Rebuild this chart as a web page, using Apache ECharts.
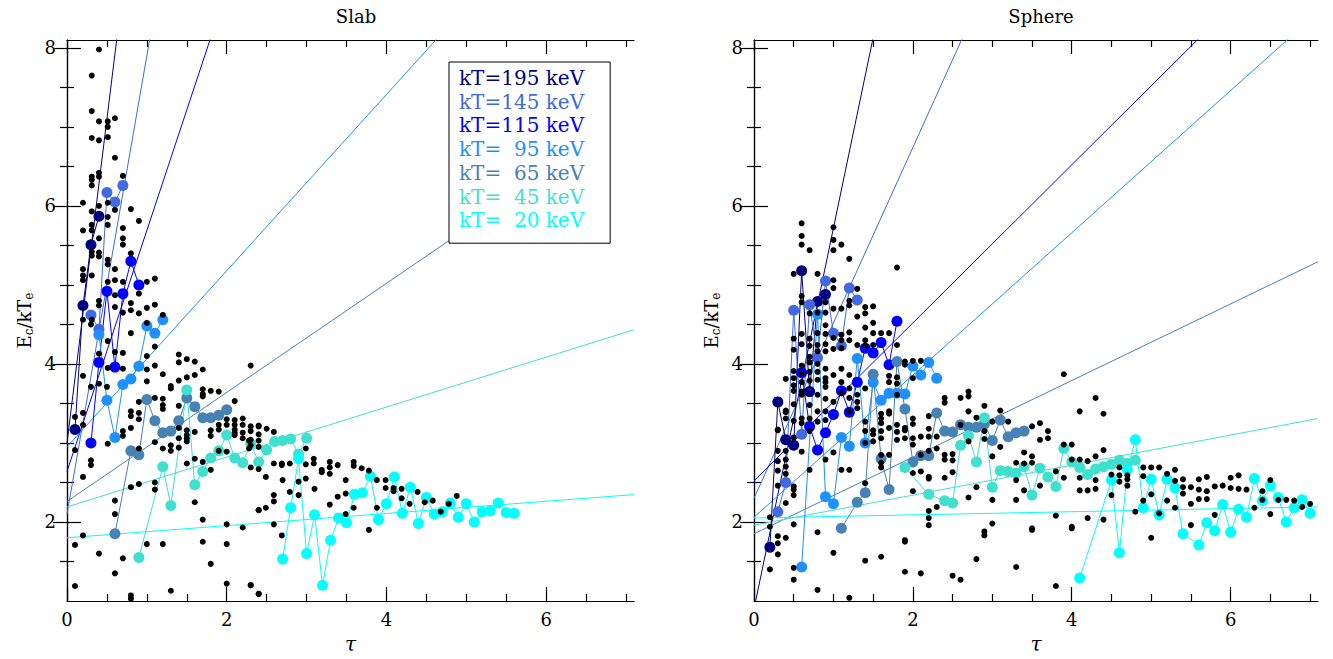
<!DOCTYPE html>
<html>
<head>
<meta charset="utf-8">
<title>Ec/kTe versus tau</title>
<script src="https://cdn.jsdelivr.net/npm/echarts@6/dist/echarts.min.js"></script>
<style>
  html, body { margin: 0; padding: 0; background: #fff; }
  #chart { width: 1333px; height: 659px; }
</style>
</head>
<body>
<div id="chart"></div>
<script>
  // legend names and colours, one per kT
  const kTNames = ['kT=195 keV', 'kT=145 keV', 'kT=115 keV', 'kT=\u200795 keV', 'kT=\u200765 keV', 'kT=\u200745 keV', 'kT=\u200720 keV'];
  const kTColors = ['#000080', '#4169e1', '#0000ff', '#1e90ff', '#4682b4', '#40e0d0', '#00ffff'];

  // tick values
  const xMajor = [0, 2, 4, 6];
  const xMinor = [0.5, 1, 1.5, 2.5, 3, 3.5, 4.5, 5, 5.5, 6.5, 7];
  const yMajor = [2, 4, 6, 8];
  const yMinor = [1.5, 2.5, 3, 3.5, 4.5, 5, 5.5, 6.5, 7, 7.5];

  // Slab: [tau, Ec/kTe]
  const slab195 = [[0.1,3.17],[0.2,4.74],[0.3,5.51],[0.4,5.87]];
  const slab145 = [[0.3,4.62],[0.4,4.44],[0.5,6.17],[0.6,6.05],[0.7,6.26]];
  const slab115 = [[0.3,3.00],[0.4,4.02],[0.5,4.92],[0.6,3.96],[0.7,4.89],[0.8,5.30],[0.9,5.00]];
  const slab95 = [[0.4,4.37],[0.5,3.54],[0.6,3.07],[0.7,3.74],[0.8,3.81],[0.9,3.97],[1.0,4.48],[1.1,4.39],[1.2,4.56]];
  const slab65 = [[0.6,1.85],[0.8,2.90],[0.9,2.85],[1.0,3.55],[1.1,3.28],[1.2,3.13],[1.3,3.15],[1.4,3.28],[1.5,3.57],[1.6,3.46],[1.7,3.32],[1.8,3.32],[1.9,3.35],[2.0,3.42]];
  const slab45 = [[0.9,1.55],[1.2,2.70],[1.3,2.21],[1.5,3.67],[1.6,2.47],[1.7,2.64],[1.8,2.81],[1.9,2.90],[2.0,3.10],[2.1,2.81],[2.2,2.75],[2.3,2.99],[2.4,2.76],[2.5,2.91],[2.6,3.02],[2.7,3.03],[2.8,3.05],[2.9,2.86],[3.0,3.06]];
  const slab20 = [[2.7,1.53],[2.8,2.18],[2.9,2.80],[3.0,1.60],[3.1,2.09],[3.2,1.20],[3.3,1.77],[3.4,2.05],[3.5,1.99],[3.6,2.35],[3.7,2.37],[3.8,2.58],[3.9,2.03],[4.0,2.23],[4.1,2.57],[4.2,2.11],[4.3,2.44],[4.4,1.98],[4.5,2.31],[4.6,2.10],[4.7,2.13],[4.8,2.24],[4.9,2.06],[5.0,2.23],[5.1,2.00],[5.2,2.13],[5.3,2.14],[5.4,2.24],[5.5,2.12],[5.6,2.11]];
  const slabDots = [
    [0.40,7.98],[0.31,7.65],[0.31,7.20],[0.40,7.07],[0.51,7.07],[0.51,7.00],[0.60,7.11],[0.31,6.86],[0.40,6.83],[0.51,6.87],
    [0.60,6.61],[0.31,6.37],[0.31,6.33],[0.40,6.42],[0.40,6.37],[0.31,6.26],[0.70,6.38],[0.20,6.04],[0.51,6.04],[0.60,5.95],
    [0.31,5.93],[0.40,6.00],[0.80,5.96],[0.51,5.86],[0.20,5.69],[0.31,5.76],[0.31,5.69],[0.51,5.76],[0.90,5.81],[0.70,5.72],
    [0.40,5.59],[0.70,5.59],[0.70,5.51],[0.31,5.42],[0.31,5.37],[0.40,5.41],[0.40,5.36],[0.80,5.40],[0.51,5.32],[0.51,5.26],
    [0.60,5.20],[0.20,5.20],[0.20,5.12],[0.20,5.06],[0.31,5.12],[0.70,5.04],[0.60,5.06],[0.51,5.04],[1.00,5.04],[1.10,5.08],
    [0.60,4.87],[0.90,4.89],[0.40,4.80],[0.40,4.74],[0.60,4.72],[0.80,4.77],[0.80,4.68],[0.70,4.65],[0.90,4.64],[1.00,4.71],
    [1.10,4.75],[0.31,4.56],[1.20,4.62],[1.00,4.52],
    [0.20,4.56],[0.30,4.50],[0.80,4.39],[0.51,4.29],[1.10,4.22],[0.60,4.15],[0.70,4.14],[0.40,4.13],[1.00,4.10],[1.40,4.12],
    [1.40,4.02],[1.50,4.06],[1.60,4.03],[1.70,3.93],[2.30,3.98],[0.51,3.95],[0.70,3.94],[1.00,3.93],[1.10,3.98],[0.20,3.85],
    [1.20,3.87],[1.50,3.83],[1.60,3.86],[0.30,3.71],[0.40,3.75],[0.50,3.71],[1.00,3.78],[1.40,3.79],[1.30,3.72],[1.30,3.69],
    [1.70,3.68],[1.80,3.66],[1.90,3.65],[0.90,3.52],[0.80,3.40],[0.80,3.34],[0.90,3.38],[0.90,3.30],[1.10,3.57],[1.20,3.56],
    [1.20,3.48],[1.20,3.43],[1.40,3.47],[1.70,3.62],[1.70,3.59],[2.10,3.53],
    [0.80,3.19],[0.20,3.38],[0.10,3.33],[0.20,3.23],[0.51,2.99],[0.70,3.15],[0.70,3.09],[1.10,3.01],[1.40,3.19],[1.50,3.16],
    [1.50,3.10],[1.50,3.06],[1.50,3.02],[1.60,3.14],[1.80,3.16],[1.80,3.09],[1.90,3.23],[1.90,3.17],[2.00,3.30],[2.00,3.23],
    [2.10,3.29],[2.10,3.23],[2.10,3.17],[2.10,3.13],[2.20,3.31],[2.20,3.23],[2.30,3.21],[2.30,3.15],[2.40,3.21],
    [0.10,2.91],[0.90,2.93],[1.20,2.93],[1.30,2.97],[1.30,2.90],[1.40,2.94],[1.50,2.74],[1.40,3.06],[1.60,2.80],[1.70,2.76],
    [1.80,2.66],[1.90,2.90],[2.00,2.89],[2.10,3.10],[2.20,3.13],[2.20,3.06],[2.30,3.04],[2.30,2.97],[2.40,3.03],[2.40,2.95],
    [2.30,2.69],[2.40,2.67],
    [0.20,2.57],[0.30,2.78],[0.30,2.72],[0.80,2.44],[0.90,2.48],[1.10,2.50],[1.10,2.41],[0.60,2.27],[0.60,2.10],[1.60,2.25],
    [1.70,2.03],[2.40,2.15],[0.20,1.83],[0.10,1.71],[0.40,1.60],[0.70,1.54],[1.00,1.72],[1.20,1.72],[1.70,1.75],[1.80,1.47],
    [2.00,1.72],[2.20,1.93],[2.00,1.97],[0.60,1.35],[0.10,1.19],[1.30,1.13],[2.00,1.22],[2.30,1.20],[2.40,1.09],[0.80,1.07],
    [0.80,1.03],
    [2.40,3.22],[2.40,3.11],[2.50,3.18],[2.59,3.14],[2.28,3.03],[2.28,2.93],[2.59,2.74],[2.69,2.74],[2.69,2.72],[2.79,2.74],
    [2.99,2.93],[2.99,2.73],[3.09,2.80],[3.09,2.74],[3.29,2.76],[3.29,2.69],[3.29,2.61],[3.39,2.72],[3.19,2.66],[3.19,2.63],
    [3.59,2.76],[3.59,2.71],[3.69,2.68],[3.78,2.65],[3.88,2.53],[3.99,2.53],[3.99,2.43],[4.09,2.43],[4.09,2.39],[4.19,2.42],
    [4.19,2.30],[4.29,2.23],[4.39,2.38],[4.48,2.25],[4.58,2.27],[2.49,2.57],[2.70,2.53],[2.90,2.51],[2.99,2.55],[3.10,2.42],
    [3.49,2.53],[2.59,2.34],[2.59,2.26],[2.79,2.38],[2.90,2.34],[3.29,2.22],[3.39,2.32],[3.49,2.36],[3.59,2.18],[3.88,2.18],
    [2.40,2.15],[2.49,2.18],[2.59,1.97],[2.69,1.83],[3.49,2.10],[3.78,1.90],[2.30,1.20],[2.40,1.09],
    [4.68,2.13],[4.78,2.23],[4.88,2.33]
  ];
  // straight-line fits: y = b + m * tau, drawn up to tauEnd
  const slabFitB = [3.0, 2.1, 2.64, 2.95, 2.26, 2.19, 1.80];
  const slabFitM = [8.2, 5.8, 3.05, 1.115, 0.69, 0.316, 0.077];
  const slabFitEnd = [7.1, 7.1, 7.1, 7.1, 6.6, 7.1, 7.1];

  // Sphere: [tau, Ec/kTe]
  const sph195 = [[0.2,1.68],[0.3,3.52],[0.4,3.04],[0.5,2.97],[0.6,5.18],[0.7,3.65],[0.8,4.79],[0.9,4.88]];
  const sph145 = [[0.3,2.13],[0.4,2.50],[0.5,4.68],[0.6,3.11],[0.7,4.75],[0.8,4.08],[0.9,5.05],[1.0,4.39],[1.1,4.23],[1.2,4.96],[1.3,4.81]];
  const sph115 = [[0.6,3.89],[0.7,3.21],[0.8,2.91],[0.9,3.13],[1.0,3.36],[1.1,3.66],[1.2,3.39],[1.3,3.77],[1.4,4.20],[1.5,4.14],[1.6,4.27],[1.7,3.99],[1.8,4.54]];
  const sph95 = [[0.6,1.43],[0.8,4.63],[0.9,2.32],[1.0,2.23],[1.1,3.07],[1.2,2.96],[1.3,4.07],[1.4,3.00],[1.5,3.77],[1.6,3.54],[1.7,3.63],[1.8,3.63],[1.9,3.62],[2.0,3.97],[2.1,3.86],[2.2,4.02],[2.3,3.82]];
  const sph65 = [[1.1,1.92],[1.3,2.25],[1.4,2.37],[1.5,3.87],[1.6,2.80],[1.7,2.41],[1.8,4.03],[1.9,3.43],[2.0,2.76],[2.1,2.84],[2.2,2.84],[2.3,3.38],[2.4,3.15],[2.5,3.14],[2.6,3.23],[2.7,3.20],[2.8,3.20],[2.9,3.24],[3.0,3.03],[3.1,3.29],[3.2,3.08],[3.3,3.13],[3.4,3.15]];
  const sph45 = [[1.9,2.69],[2.2,2.35],[2.4,2.27],[2.5,2.24],[2.6,2.97],[2.7,3.09],[2.8,2.76],[2.9,3.32],[3.0,2.44],[3.1,2.65],[3.2,2.64],[3.3,2.62],[3.4,2.70],[3.5,2.34],[3.6,2.68],[3.7,2.57],[3.8,2.45],[3.9,2.93],[4.0,2.76],[4.1,2.69],[4.2,2.60],[4.3,2.67],[4.4,2.70],[4.5,2.73],[4.6,2.78],[4.7,2.74],[4.8,2.78]];
  const sph20 = [[4.1,1.29],[4.5,2.53],[4.6,1.61],[4.7,2.66],[4.8,3.04],[4.9,2.18],[5.0,2.54],[5.1,2.09],[5.2,2.54],[5.3,2.43],[5.4,1.85],[5.6,1.71],[5.7,1.99],[5.8,1.89],[5.9,2.22],[6.0,1.87],[6.1,2.16],[6.2,2.06],[6.3,2.55],[6.4,2.27],[6.5,2.46],[6.6,2.31],[6.7,2.00],[6.8,2.18],[6.9,2.28],[7.0,2.11]];
  const sphDots = [
    [0.6,5.78],[0.6,5.62],[0.6,5.51],[0.7,5.44],[1.0,5.73],[1.0,5.57],[1.0,5.44],[1.1,5.51],[1.2,5.33],[1.8,5.22],
    [0.5,5.14],[0.8,5.14],[1.0,5.06],[1.0,4.96],[1.3,4.95],[0.6,4.86],[0.6,4.78],[0.7,4.64],[0.9,4.78],[0.9,4.65],
    [0.8,4.65],[1.2,4.80],[1.2,4.74],[1.0,4.70],[1.1,4.70],[1.3,4.60],[1.4,4.72],[1.5,4.73],[1.4,4.64],
    [0.5,4.32],[0.5,4.18],[0.6,4.38],[0.6,4.25],[0.7,4.32],[0.7,4.23],[0.7,4.09],[0.8,4.39],[0.8,4.24],[0.8,4.16],
    [0.9,4.49],[0.9,4.38],[0.9,4.25],[0.9,4.16],[1.0,4.33],[1.0,4.19],[1.1,4.37],[1.1,4.30],[1.1,4.20],[1.2,4.40],
    [1.2,4.30],[1.3,4.24],[1.4,4.46],[1.5,4.52],[1.5,4.39],[1.6,4.39],[1.7,4.39],[1.4,4.30],[1.4,4.23],[1.8,4.24],[1.5,4.24],
    [0.5,3.91],[0.5,3.82],[0.5,3.73],[0.6,3.98],[0.6,3.88],[0.6,3.77],[0.7,4.02],[0.7,3.90],[0.7,3.79],[0.8,4.00],
    [0.8,3.90],[0.8,3.80],[0.9,3.94],[0.9,3.82],[0.9,3.71],[0.4,3.81],[0.3,3.16],[0.3,2.90],[0.3,2.77],[0.4,3.41],
    [0.4,2.90],[0.4,2.79],[0.5,3.66],[0.5,3.49],[0.5,3.28],[0.5,3.07],[0.6,3.65],[0.6,3.61],[0.6,3.31],[0.7,3.48],
    [0.7,3.31],[0.7,3.15],[0.8,3.61],[0.8,3.40],[0.8,3.27],[0.9,3.77],[0.9,3.56],[0.9,3.40],[0.9,3.29],[1.0,3.86],
    [1.0,3.52],[1.1,3.94],[1.1,3.77],[1.1,3.63],[1.2,3.86],[1.2,3.69],[1.2,3.57],[1.2,3.40],[1.3,3.61],[1.3,3.52],
    [1.3,3.44],[1.4,3.69],[1.4,3.27],[1.4,3.15],[1.4,3.00],[1.5,3.11],[1.5,3.02],[1.6,3.37],[1.6,3.31],[1.6,3.15],
    [1.6,3.06],[1.6,2.85],[1.6,2.75],[1.6,2.69],[1.7,3.85],[1.7,3.77],[1.7,3.40],[1.7,3.19],[1.7,2.85],[1.8,3.83],
    [1.8,3.75],[1.8,3.61],[1.8,3.23],[1.8,3.14],[1.8,3.04],[1.9,4.03],[1.9,3.99],[1.9,3.19],[1.9,3.06],[2.0,4.04],
    [2.0,3.82],[2.0,3.31],[2.0,3.24],[2.0,3.06],[2.0,2.98],[2.0,2.39],[2.1,4.04],[2.1,3.08],[2.1,2.85],[2.1,2.64],
    [2.2,3.34],[2.2,3.18],[2.2,3.08],[2.2,2.90],[2.2,2.57],[2.3,3.08],[2.3,2.93],[2.4,3.57],[2.4,3.51],[2.4,2.85],
    [2.4,2.79],[2.4,2.56],[2.5,2.86],[2.5,2.78],[2.5,2.63],[2.6,3.57],[2.6,3.23],[2.7,3.65],[2.7,3.59],[2.7,3.40],
    [2.7,3.02],[2.7,2.31],[2.8,3.32],[2.8,2.44],[2.9,3.47],[2.9,3.15],[2.9,3.05],[3.0,3.27],[3.0,2.83],[3.0,2.28],
    [3.0,1.98],[3.1,3.41],[3.1,2.95],[3.2,3.27],[3.3,2.75],[3.3,2.53],[3.3,2.28],[3.4,2.88],[3.4,2.74],[3.4,2.40],
    [3.5,3.21],[3.5,2.83],[3.5,2.75],[3.6,3.25],[3.6,3.04],[3.6,2.46],[3.7,3.15],[3.7,3.06],[3.8,2.64],[3.9,3.87],
    [3.9,2.98],[3.9,2.56],[4.0,2.98],[4.0,2.79],[4.0,1.94],[4.1,3.40],[4.1,2.79],[4.1,2.56],[4.1,2.40],[4.2,2.77],
    [4.2,2.40],[4.2,2.05],[4.3,3.57],[4.3,2.83],[4.3,2.53],[4.3,2.42],[4.4,3.37],[4.4,2.91],[4.5,2.60],[4.6,2.69],
    [4.6,2.59],[4.6,2.51],[4.7,2.59],[4.7,2.54],[4.7,2.46],[4.8,2.13],[4.9,2.69],[4.9,2.58],[4.9,2.27],[5.0,2.69],
    [5.0,2.35],[5.1,2.69],[5.1,2.11],[5.2,2.61],[5.2,2.27],[5.3,2.66],[5.3,2.52],[5.3,2.18],[5.4,2.54],[5.4,2.44],
    [5.4,2.36],[5.5,2.44],[5.5,2.23],[5.6,2.54],[5.6,2.41],[5.6,2.29],[5.7,2.57],[5.7,2.39],[5.7,2.29],[5.8,2.45],
    [5.8,2.09],[5.9,2.46],[6.0,2.56],[6.0,2.43],[6.1,2.59],[6.1,2.42],[6.2,2.41],[6.3,2.18],[6.4,2.39],[6.4,2.28],
    [6.5,2.53],[6.5,2.10],[6.6,2.28],[6.7,2.28],[6.8,2.27],[6.9,2.19],[7.0,2.23],
    [0.8,1.87],[0.5,1.97],[0.3,1.73],[4.5,2.34],[4.4,2.03],[3.8,2.08],[3.5,1.92],[2.9,1.88],[2.2,2.05],[2.2,1.96],
    [1.9,1.77],[5.0,1.80],[5.5,1.96],
    [0.4,3.39],[0.4,3.31],[0.3,3.17],[0.4,2.70],[0.4,2.61],[0.3,2.65],[0.3,2.46],[0.5,2.45],[0.5,2.41],[0.5,2.34],
    [0.4,2.24],[0.2,2.06],[0.2,1.94],[0.3,1.82],[0.3,1.59],[0.4,1.80],[0.2,1.40],[0.5,1.42],[0.5,1.27],[0.8,1.14],
    [1.2,1.04],[1.0,1.61],[1.4,1.51],[1.6,1.56],[1.9,1.75],[1.9,1.37],[2.1,1.35],[2.8,1.53],[2.5,1.32],[2.6,1.27],
    [3.3,1.43],[3.8,1.19],[2.9,1.83],[3.5,1.90],[4.0,1.92],
    [0.6,3.25],[0.6,2.89],[0.7,2.66],[0.9,2.79],[1.0,2.88],[1.1,2.66],[1.2,2.66],[1.4,2.49],[1.5,3.16],[1.6,3.25],
    [1.7,3.37],[1.9,3.16],[2.0,2.62],[2.2,2.55],[2.3,2.19],[2.2,2.14]
  ];
  const sphFitB = [0.9, 2.3, 2.52, 2.06, 1.85, 1.96, 2.05];
  const sphFitM = [4.82, 2.22, 1.0, 0.90, 0.485, 0.19, 0.02];
  const sphFitEnd = [7.1, 7.1, 7.1, 7.1, 7.1, 7.1, 7.1];

  const FONT = 'DejaVu Serif';
  const axisColor = '#000';

  function xAxesFor(g) {
    const base = { type: 'value', gridIndex: g, min: 0, max: 7.1, splitLine: { show: false } };
    const line = { show: true, lineStyle: { color: axisColor, width: 1.2 } };
    return [
      Object.assign({}, base, {
        position: 'bottom', axisLine: line,
        axisTick: { inside: true, length: 14, customValues: xMajor, lineStyle: { color: axisColor, width: 1.2 } },
        axisLabel: { customValues: xMajor, color: '#000', fontFamily: FONT, fontSize: 18, margin: 9 },
        name: 'τ', nameLocation: 'middle', nameGap: 33,
        nameTextStyle: { fontFamily: FONT, fontSize: 20, fontStyle: 'italic', color: '#000' }
      }),
      Object.assign({}, base, {
        position: 'bottom', axisLine: { show: false },
        axisTick: { inside: true, length: 7, customValues: xMinor, lineStyle: { color: axisColor, width: 1.2 } },
        axisLabel: { show: false }
      }),
      Object.assign({}, base, {
        position: 'top', axisLine: line,
        axisTick: { inside: true, length: 14, customValues: xMajor, lineStyle: { color: axisColor, width: 1.2 } },
        axisLabel: { show: false }
      }),
      Object.assign({}, base, {
        position: 'top', axisLine: { show: false },
        axisTick: { inside: true, length: 7, customValues: xMinor, lineStyle: { color: axisColor, width: 1.2 } },
        axisLabel: { show: false }
      })
    ];
  }

  function yAxesFor(g) {
    const base = { type: 'value', gridIndex: g, min: 1, max: 8.1, splitLine: { show: false } };
    const line = { show: true, lineStyle: { color: axisColor, width: 1.2 } };
    return [
      Object.assign({}, base, {
        position: 'left', axisLine: line,
        axisTick: { inside: true, length: 14, customValues: yMajor, lineStyle: { color: axisColor, width: 1.2 } },
        axisLabel: { customValues: yMajor, color: '#000', fontFamily: FONT, fontSize: 18, margin: 11 },
        name: '{n|E}{s|c}{n|/kT}{s|e}', nameLocation: 'middle', nameGap: 32, nameRotate: 90,
        nameTextStyle: {
          fontFamily: FONT, color: '#000',
          rich: {
            n: { fontFamily: FONT, fontSize: 18, color: '#000', verticalAlign: 'middle' },
            s: { fontFamily: FONT, fontSize: 12, color: '#000', verticalAlign: 'bottom', padding: [10, 0, 0, 0] }
          }
        }
      }),
      Object.assign({}, base, {
        position: 'left', axisLine: { show: false },
        axisTick: { inside: true, length: 7, customValues: yMinor, lineStyle: { color: axisColor, width: 1.2 } },
        axisLabel: { show: false }
      }),
      Object.assign({}, base, {
        position: 'right', axisLine: line,
        axisTick: { inside: true, length: 14, customValues: yMajor, lineStyle: { color: axisColor, width: 1.2 } },
        axisLabel: { show: false }
      }),
      Object.assign({}, base, {
        position: 'right', axisLine: { show: false },
        axisTick: { inside: true, length: 7, customValues: yMinor, lineStyle: { color: axisColor, width: 1.2 } },
        axisLabel: { show: false }
      })
    ];
  }

  function panelSeries(g, groups, dots, fitB, fitM, fitEnd) {
    const out = [];
    // fitted straight lines
    fitB.forEach((b, i) => {
      out.push({
        type: 'line', name: 'fit ' + kTNames[i], xAxisIndex: g * 4, yAxisIndex: g * 4,
        data: [[0, b], [fitEnd[i], b + fitM[i] * fitEnd[i]]],
        symbol: 'none', silent: true, clip: true, z: 1,
        lineStyle: { color: kTColors[i], width: 1 }
      });
    });
    // simulated points joined per kT
    groups.forEach((pts, i) => {
      out.push({
        type: 'line', name: kTNames[i], xAxisIndex: g * 4, yAxisIndex: g * 4,
        data: pts, symbol: 'circle', symbolSize: 11, showSymbol: true, z: 2,
        itemStyle: { color: kTColors[i], opacity: 1 },
        lineStyle: { color: kTColors[i], width: 1 }
      });
    });
    // black dots on top
    out.push({
      type: 'scatter', name: 'dots', xAxisIndex: g * 4, yAxisIndex: g * 4,
      data: dots, symbolSize: 6, z: 3,
      itemStyle: { color: '#000', opacity: 1 }
    });
    return out;
  }

  const chart = echarts.init(document.getElementById('chart'), null, { renderer: 'svg' });
  chart.setOption({
    animation: false,
    backgroundColor: '#fff',
    title: [
      { text: 'Slab', left: 351, top: 2, textAlign: 'center',
        textStyle: { fontFamily: FONT, fontSize: 18, fontWeight: 'normal', color: '#000' } },
      { text: 'Sphere', left: 1036, top: 2, textAlign: 'center',
        textStyle: { fontFamily: FONT, fontSize: 18, fontWeight: 'normal', color: '#000' } }
    ],
    legend: {
      left: 449, top: 62, orient: 'vertical', icon: 'none',
      itemWidth: 0, itemHeight: 14, itemGap: 3.7,
      padding: [6, 26, 13, 5],
      backgroundColor: '#fff', borderColor: '#000', borderWidth: 1,
      selectedMode: false,
      textStyle: { fontFamily: FONT, fontSize: 20, lineHeight: 20 },
      data: kTNames.map((n, i) => ({ name: n, textStyle: { color: kTColors[i] } }))
    },
    grid: [
      { left: 67, top: 40, width: 567, height: 564 },
      { left: 754, top: 40, width: 564, height: 564 }
    ],
    xAxis: xAxesFor(0).concat(xAxesFor(1)),
    yAxis: yAxesFor(0).concat(yAxesFor(1)),
    series: panelSeries(0, [slab195, slab145, slab115, slab95, slab65, slab45, slab20], slabDots, slabFitB, slabFitM, slabFitEnd)
      .concat(panelSeries(1, [sph195, sph145, sph115, sph95, sph65, sph45, sph20], sphDots, sphFitB, sphFitM, sphFitEnd))
  });
</script>
</body>
</html>
